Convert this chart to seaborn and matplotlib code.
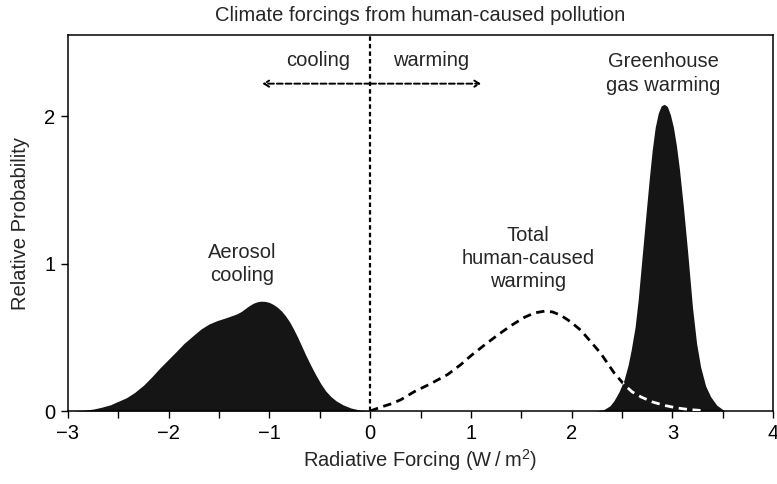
import numpy as np
import pandas as pd
import seaborn as sns
import matplotlib
matplotlib.use("Agg")
import matplotlib.pyplot as plt

# Probability density of aerosol forcing (W/m^2)
aerosol_x = [-2.95, -2.85, -2.75, -2.67, -2.58, -2.51, -2.42, -2.34, -2.25, -2.17,
             -2.09, -2.01, -1.93, -1.85, -1.76, -1.68, -1.60, -1.52, -1.42, -1.32,
             -1.28, -1.24, -1.20, -1.16, -1.12, -1.08, -1.04, -1.00, -0.96, -0.92,
             -0.88, -0.84, -0.80, -0.76, -0.72, -0.68, -0.64, -0.59, -0.54, -0.49,
             -0.44, -0.39, -0.34, -0.27, -0.19, -0.10, 0.0]
aerosol_y = [0.0, 0.005, 0.013, 0.025, 0.042, 0.063, 0.09, 0.125, 0.175, 0.23,
             0.29, 0.345, 0.40, 0.457, 0.51, 0.556, 0.59, 0.613, 0.635, 0.66,
             0.675, 0.695, 0.715, 0.731, 0.741, 0.745, 0.743, 0.736, 0.722, 0.703,
             0.678, 0.645, 0.605, 0.555, 0.50, 0.44, 0.38, 0.31, 0.245, 0.185,
             0.135, 0.098, 0.07, 0.042, 0.02, 0.006, 0.0]

# Probability density of greenhouse gas forcing
ghg_x = [2.25, 2.32, 2.38, 2.42, 2.47, 2.52, 2.56, 2.59, 2.63, 2.66, 2.70, 2.74, 2.77,
         2.80, 2.83, 2.86, 2.89, 2.92, 2.95, 2.98, 3.01, 3.04, 3.07, 3.11, 3.15, 3.20,
         3.24, 3.28, 3.33, 3.38, 3.44, 3.52]
ghg_y = [0.0, 0.01, 0.035, 0.07, 0.13, 0.21, 0.31, 0.41, 0.57, 0.75, 1.05, 1.35, 1.57,
         1.77, 1.925, 2.02, 2.07, 2.08, 2.065, 2.01, 1.925, 1.80, 1.64, 1.38, 1.09, 0.70,
         0.46, 0.30, 0.17, 0.097, 0.04, 0.0]

# Probability density of total human-caused forcing
total_x = [0.0, 0.10, 0.20, 0.30, 0.44, 0.60, 0.77, 0.90, 1.00, 1.13, 1.265, 1.40,
           1.53, 1.63, 1.73, 1.81, 1.89, 1.99, 2.09, 2.19, 2.29, 2.36, 2.42, 2.52,
           2.60, 2.69, 2.80, 2.92, 3.05, 3.17, 3.28]
total_y = [0.0, 0.025, 0.047, 0.075, 0.132, 0.185, 0.248, 0.315, 0.375, 0.445, 0.515,
           0.58, 0.635, 0.665, 0.677, 0.672, 0.65, 0.605, 0.548, 0.47, 0.39, 0.32,
           0.26, 0.18, 0.13, 0.095, 0.062, 0.038, 0.02, 0.01, 0.004]

x_ticks = [-3, -2, -1, 0, 1, 2, 3, 4]
x_minor = [-2.5, -1.5, -0.5, 0.5, 1.5, 2.5, 3.5]
y_ticks = [0, 1, 2]

sns.set_style("ticks")
plt.rcParams["font.family"] = ["Liberation Sans", "DejaVu Sans"]
plt.rcParams["mathtext.fontset"] = "custom"
plt.rcParams["mathtext.rm"] = "Liberation Sans"

fig = plt.figure(figsize=(7.77, 4.84), dpi=100)
ax = fig.add_axes([0.0875, 0.1508, 0.9075, 0.7769])

fill_color = "#151515"
ax.fill_between(aerosol_x, aerosol_y, 0, color=fill_color, lw=0, zorder=2)
ghg_fill = ax.fill_between(ghg_x, ghg_y, 0, color=fill_color, lw=0, zorder=2)

dash = (0, (3.0, 2.0))
total_df = pd.DataFrame({"forcing": total_x, "prob": total_y})
sns.lineplot(data=total_df, x="forcing", y="prob", ax=ax, color="black",
             lw=2, linestyle=dash, sort=False, zorder=3)
# white copy of the dashed curve where it crosses the filled peak
white_line, = ax.plot(total_x, total_y, color="white", lw=2,
                      linestyle=dash, zorder=4)
white_line.set_clip_path(ghg_fill.get_paths()[0], transform=ax.transData)

# zero-forcing divider and direction arrows
ax.axvline(0, color="black", lw=1.6, linestyle=(0, (2.0, 1.4)), zorder=3)
for end in (-1.07, 1.10):
    ax.annotate("", xy=(end, 2.22), xytext=(0, 2.22),
                arrowprops=dict(arrowstyle="->,head_length=0.35,head_width=0.22",
                                lw=1.4, linestyle=(0, (3.0, 1.5)),
                                color="black", shrinkA=0, shrinkB=0))

fs = 14.5
ax.text(-0.52, 2.38, "cooling", ha="center", va="center", fontsize=fs)
ax.text(0.60, 2.38, "warming", ha="center", va="center", fontsize=fs)
ax.text(2.91, 2.29, "Greenhouse\ngas warming", ha="center", va="center",
        fontsize=fs, linespacing=1.32)
ax.text(-1.27, 0.995, "Aerosol\ncooling", ha="center", va="center",
        fontsize=fs, linespacing=1.27)
ax.text(1.57, 1.036, "Total\nhuman-caused\nwarming", ha="center", va="center",
        fontsize=fs, linespacing=1.27)

ax.set_xlim(-3, 4)
ax.set_ylim(0, 2.55)
ax.set_xticks(x_ticks)
ax.set_xticklabels([f"{t}".replace("-", "\u2212") for t in x_ticks])
ax.set_xticks(x_minor, minor=True)
ax.set_yticks(y_ticks)
ax.tick_params(axis="both", which="both", direction="out", length=5, width=1,
               labelsize=fs, color="black", labelcolor="black", pad=4)
for s in ax.spines.values():
    s.set_visible(True)
    s.set_linewidth(1.1)
    s.set_color("black")

ax.set_title("Climate forcings from human-caused pollution", fontsize=fs, pad=10)
ax.set_xlabel("Radiative Forcing (W\u2009/\u2009m$^2$)", fontsize=fs, labelpad=3.5)
ax.set_ylabel("Relative Probability", fontsize=fs, labelpad=10)

fig.savefig("out.png", dpi=100)
